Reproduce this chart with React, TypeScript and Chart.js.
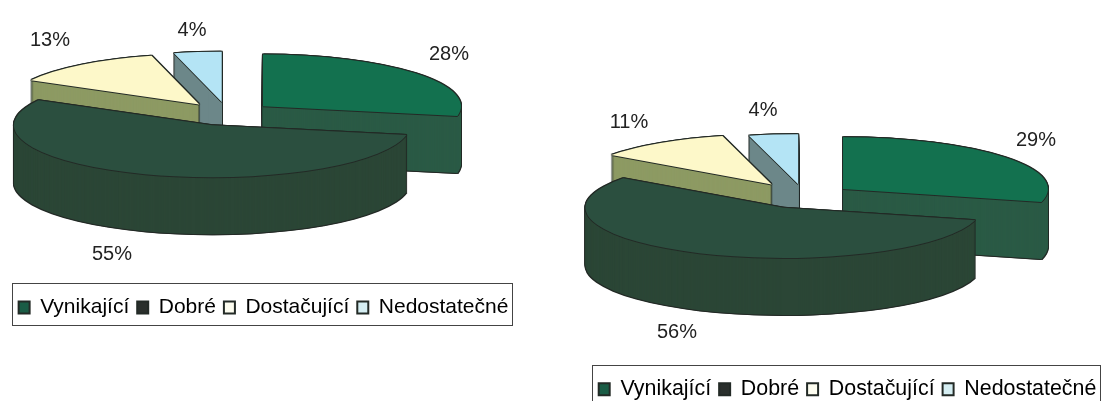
import React, { useEffect, useRef } from "react";
import { Chart, ArcElement, PieController, Legend } from "chart.js";

Chart.register(ArcElement, PieController, Legend);

const categories = ["Vynikající", "Dobré", "Dostačující", "Nedostatečné"];
const valuesLeft = [28, 55, 13, 4];
const valuesRight = [29, 56, 11, 4];

const topColors = ["#13714f", "#2b4f3f", "#fdf8c9", "#b4e4f5"];
const sideColors = ["#2a5a45", "#2b4636", "#8d9a63", "#6c8789"];
const legendColors = ["#1a5c45", "#2a2f2c", "#fdfdf0", "#d5eef2"];
const outline = "#232a26";
const drawOrder = [3, 2, 0, 1];
const fontFamily = '"Liberation Sans", Arial, sans-serif';

type PieLayout = {
  left: number; width: number; height: number;
  cx: number; cy: number; radius: number; squash: number; depth: number; explode: number[];
  sliceScale: number[]; labels: number[][]; legendFont: number; frameTop: number;
};

const layoutLeft: PieLayout = {
  left: 0, width: 527, height: 331,
  cx: 227.5, cy: 114, radius: 198, squash: 0.262, depth: 57, explode: [46, 46, 46, 46],
  sliceScale: [1, 1, 0.97, 0.97],
  labels: [[449, 54], [112, 254], [50, 40], [192, 30]], legendFont: 21, frameTop: 6,
};
const layoutRight: PieLayout = {
  left: 561, width: 573, height: 413,
  cx: 804.3, cy: 196.6, radius: 198, squash: 0.253, depth: 57, explode: [49, 49, 58, 49],
  sliceScale: [1.035, 1, 1, 1],
  labels: [[1036, 140], [677, 332], [629, 122], [763, 110]], legendFont: 21.4, frameTop: 6,
};

const flatOptions = (color: string) => ({
  backgroundColor: color, borderColor: color, borderWidth: 0, offset: 0, spacing: 0,
  borderAlign: "center", circular: true, borderRadius: 0, selfJoin: false,
  borderJoinStyle: "round", borderDash: [], borderDashOffset: 0,
});

const pie3d = {
  id: "pie3d",
  beforeDatasetsDraw(chart: any, _args: any, opts: any) {
    const L: PieLayout = opts.layout;
    const ctx = chart.ctx;
    const arcs = chart.getDatasetMeta(0).data;
    const cx = L.cx - L.left;
    const stamp = (el: any, i: number, color: string, dx: number, dy: number) => {
      const mid = (el.startAngle + el.endAngle) / 2;
      const fake = Object.create(el);
      fake.options = flatOptions(color);
      fake.outerRadius = el.outerRadius * L.sliceScale[i];
      ctx.save();
      ctx.translate(cx + dx, L.cy + dy);
      ctx.scale(1, L.squash);
      ctx.translate(Math.cos(mid) * L.explode[i] - el.x, Math.sin(mid) * L.explode[i] - el.y);
      ArcElement.prototype.draw.call(fake, ctx);
      ctx.restore();
    };
    for (const i of drawOrder) {
      const el = arcs[i];
      for (let d = -1; d <= L.depth + 1; d++) {
        stamp(el, i, outline, -1, d);
        stamp(el, i, outline, 1, d);
      }
      for (let d = L.depth; d >= 0; d--) stamp(el, i, sideColors[i], 0, d);
      for (const [dx, dy] of [[-1, 0], [1, 0], [0, -1], [0, 1]]) stamp(el, i, outline, dx, dy);
      stamp(el, i, topColors[i], 0, 0);
    }
    return false;
  },
  afterDraw(chart: any, _args: any, opts: any) {
    const L: PieLayout = opts.layout;
    const ctx = chart.ctx;
    const values = chart.data.datasets[0].data;
    ctx.save();
    ctx.fillStyle = "#222222";
    ctx.font = `20px ${fontFamily}`;
    ctx.textAlign = "center";
    ctx.textBaseline = "middle";
    values.forEach((v: number, i: number) => {
      ctx.fillText(`${v}%`, L.labels[i][0] - L.left, L.labels[i][1]);
    });
    const legend = chart.legend;
    const hits = legend.legendHitBoxes;
    const last = hits[hits.length - 1];
    const frameLeft = Math.round(hits[0].left - 6.3);
    ctx.strokeStyle = "#444444";
    ctx.lineWidth = 1;
    ctx.strokeRect(
      frameLeft + 0.5,
      Math.round(legend.top - L.frameTop) + 0.5,
      Math.round(last.left + last.width + 4) - frameLeft,
      Math.round(legend.height + L.frameTop - 3),
    );
    ctx.restore();
  },
};

function PieChart({ values, layout }: { values: number[]; layout: PieLayout }) {
  const ref = useRef<HTMLCanvasElement>(null);
  useEffect(() => {
    const chart = new Chart(ref.current as HTMLCanvasElement, {
      type: "pie",
      data: {
        labels: categories,
        datasets: [{ data: values, backgroundColor: topColors, borderColor: outline, borderWidth: 0 }],
      },
      plugins: [pie3d],
      options: {
        responsive: false,
        animation: false,
        radius: layout.radius,
        layout: { padding: { bottom: 3 } },
        plugins: {
          pie3d: { layout },
          tooltip: { enabled: false },
          legend: {
            position: "bottom",
            labels: {
              boxWidth: 11,
              boxHeight: 12,
              padding: 8,
              color: "#222222",
              font: { family: fontFamily, size: layout.legendFont },
              generateLabels: () =>
                categories.map((text, index) => ({
                  text,
                  index,
                  fillStyle: legendColors[index],
                  strokeStyle: outline,
                  lineWidth: 2,
                  hidden: false,
                })),
            },
          },
        },
      } as any,
    });
    return () => chart.destroy();
  }, []);
  return (
    <canvas
      ref={ref}
      width={layout.width}
      height={layout.height}
      style={{ position: "absolute", left: layout.left, top: 0 }}
    />
  );
}

export default function App() {
  return (
    <div style={{ position: "fixed", left: 0, top: 0, width: 1101, height: 401, overflow: "hidden", background: "#ffffff" }}>
      <PieChart values={valuesLeft} layout={layoutLeft} />
      <PieChart values={valuesRight} layout={layoutRight} />
    </div>
  );
}
